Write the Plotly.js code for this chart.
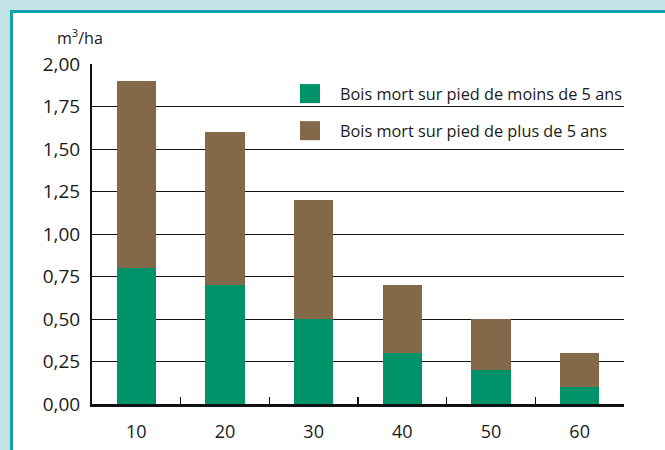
<!DOCTYPE html>
<html>
<head>
<meta charset="utf-8">
<script src="https://cdn.plot.ly/plotly-3.0.1.min.js"></script>
<style>
  html, body { margin: 0; padding: 0; }
  body { width: 665px; height: 450px; background: #c2e2e6; position: relative; overflow: hidden; }
  #panel { position: absolute; left: 10px; top: 10px; width: 700px; height: 500px;
           background: #ffffff; border-left: 3px solid #0fa2a6; border-top: 3px solid #0fa2a6; }
  #chart { position: absolute; left: 0; top: 0; width: 665px; height: 450px; }
</style>
</head>
<body>
<div id="panel"></div>
<div id="chart"></div>
<script>
// ---- data ----
const categories = ["10", "20", "30", "40", "50", "60"];
const youngDeadwood = [0.8, 0.7, 0.5, 0.3, 0.2, 0.1];   // moins de 5 ans
const oldDeadwood   = [1.1, 0.9, 0.7, 0.4, 0.3, 0.2];   // plus de 5 ans
const seriesNames = ["Bois mort sur pied de moins de 5 ans", "Bois mort sur pied de plus de 5 ans"];
const yTickVals = [0, 0.25, 0.5, 0.75, 1, 1.25, 1.5, 1.75, 2];
const yTickText = ["0,00", "0,25", "0,50", "0,75", "1,00", "1,25", "1,50", "1,75", "2,00"];
const unitLabel = "m<sup>3</sup>/ha";

// ---- styles ----
const GREEN = "#00936a";
const BROWN = "#83694a";
const FONT = "Open Sans, DejaVu Sans, sans-serif";
const TXT = "#1a1a1a";

const traces = [
  { type: "bar", x: categories, y: youngDeadwood, name: seriesNames[0],
    marker: { color: GREEN, line: { width: 0 } }, showlegend: false, hoverinfo: "none" },
  { type: "bar", x: categories, y: oldDeadwood, name: seriesNames[1],
    marker: { color: BROWN, line: { width: 0 } }, showlegend: false, hoverinfo: "none" }
];

const layout = {
  width: 665, height: 450,
  margin: { l: 92, r: 41, t: 64, b: 46 },
  paper_bgcolor: "rgba(0,0,0,0)",
  plot_bgcolor: "rgba(0,0,0,0)",
  barmode: "stack",
  bargap: 0.56,
  font: { family: FONT, color: TXT },
  xaxis: {
    type: "category",
    showline: true, linecolor: "#111", linewidth: 2.5,
    tickson: "boundaries", ticks: "inside", ticklen: 7, tickwidth: 1.5, tickcolor: "#111",
    showgrid: false, zeroline: false,
    tickfont: { size: 18, family: FONT, color: TXT },
    ticklabelstandoff: 10,
    fixedrange: true
  },
  yaxis: {
    range: [0, 2],
    tickvals: yTickVals, ticktext: yTickText,
    showline: true, linecolor: "#111", linewidth: 2,
    showgrid: true, gridcolor: "#111", gridwidth: 1,
    zeroline: false, ticks: "",
    tickfont: { size: 19, family: FONT, color: TXT },
    ticklabelstandoff: 6,
    fixedrange: true
  },
  shapes: [
    // white legend background covering gridlines
    { type: "rect", xref: "paper", yref: "paper", layer: "between",
      x0: 0.363, x1: 1.05, y0: 0.688, y1: 1.03,
      fillcolor: "#ffffff", line: { width: 0 } },
    // legend swatches
    { type: "rect", xref: "paper", yref: "paper", layer: "above",
      x0: 0.391, x1: 0.4286, y0: 0.885, y1: 0.941,
      fillcolor: GREEN, line: { width: 0 } },
    { type: "rect", xref: "paper", yref: "paper", layer: "above",
      x0: 0.391, x1: 0.4286, y0: 0.776, y1: 0.832,
      fillcolor: BROWN, line: { width: 0 } }
  ],
  annotations: [
    { xref: "paper", yref: "paper", x: 0.462, y: 0.913, xanchor: "left", yanchor: "middle",
      text: seriesNames[0], showarrow: false, font: { size: 16.3, family: FONT, color: TXT } },
    { xref: "paper", yref: "paper", x: 0.462, y: 0.804, xanchor: "left", yanchor: "middle",
      text: seriesNames[1], showarrow: false, font: { size: 16.3, family: FONT, color: TXT } },
    { xref: "paper", yref: "paper", x: -0.07, y: 1.078, xanchor: "left", yanchor: "middle",
      text: unitLabel, showarrow: false, font: { size: 16, family: FONT, color: TXT } }
  ]
};

Plotly.newPlot("chart", traces, layout, { displayModeBar: false, staticPlot: true });
</script>
</body>
</html>
